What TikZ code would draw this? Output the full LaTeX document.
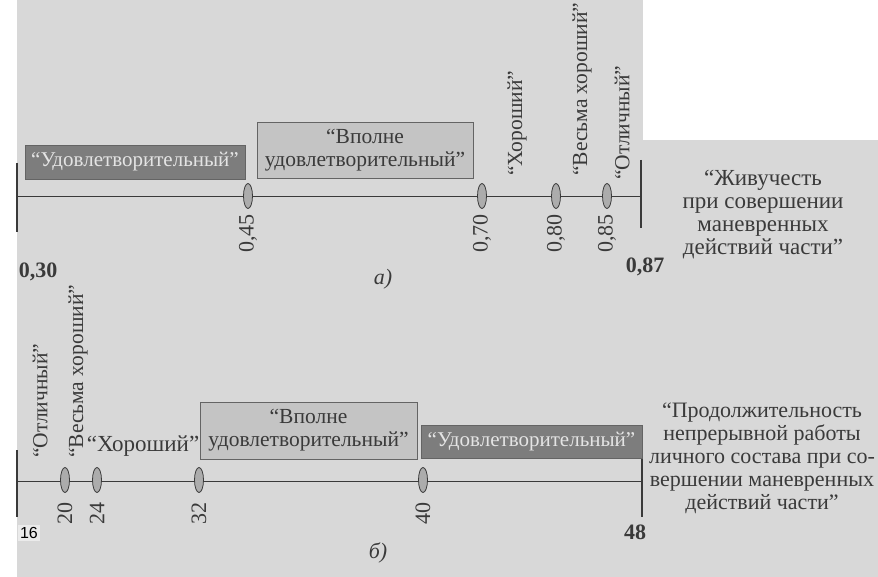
\documentclass[tikz,border=0pt]{standalone}
\usepackage{fontspec}
\setmainfont{Liberation Serif}
\setsansfont{Liberation Sans}
\usetikzlibrary{shapes.geometric}
\definecolor{page}{RGB}{216,216,216}
\definecolor{ink}{RGB}{58,58,58}
\definecolor{darkbox}{RGB}{125,125,125}
\definecolor{lightbox}{RGB}{196,196,196}
\definecolor{boxline}{RGB}{100,100,100}
\definecolor{ovalfill}{RGB}{172,172,172}
\definecolor{lighttext}{RGB}{228,228,228}
\begin{document}
\begin{tikzpicture}[x=1pt,y=-1pt,
  every node/.style={text=ink, font=\fontsize{23}{23}\selectfont},
  darkrect/.style={fill=darkbox, draw=boxline, line width=0.8, text=lighttext, inner sep=0, align=center, font=\fontsize{21}{23}\selectfont},
  lightrect/.style={fill=lightbox, draw=boxline, line width=0.8, inner sep=0, align=center, font=\fontsize{21.5}{23}\selectfont},
  oval/.style={ellipse, draw=ink, fill=ovalfill, minimum width=9, minimum height=25, inner sep=0, line width=0.8},
  axis/.style={draw=ink, line width=1},
  endtick/.style={draw=ink, line width=1.3},
  vlabel/.style={rotate=90, anchor=west, inner sep=0, font=\fontsize{21.5}{23}\selectfont},
  num/.style={rotate=90, anchor=east, inner sep=0, font=\fontsize{22}{23}\selectfont},
  bignum/.style={font=\bfseries\fontsize{22}{23}\selectfont, inner sep=0},
  caption/.style={align=center, inner sep=0},
  sublabel/.style={font=\itshape\fontsize{22}{23}\selectfont, inner sep=0}
]
\useasboundingbox (0,0) rectangle (878,577);
\fill[page] (17,0) rectangle (878,577);
\fill[white] (643,0) rectangle (878,140);

% ---------- scale a ----------
\coordinate (aL) at (17,197);
\coordinate (aR) at (641,197);
\coordinate (aLt) at (17,163);
\coordinate (aLb) at (17,232);
\coordinate (aRt) at (641,160);
\coordinate (aRb) at (641,228);
\draw[axis] (aL) -- (aR);
\draw[endtick] (aLt) -- (aLb);
\draw[endtick] (aRt) -- (aRb);

\node[darkrect, minimum width=220, minimum height=34] (aSat) at (135,162) {“Удовлетворительный”};
\node[lightrect, minimum width=216, minimum height=56] (aFull) at (365,150) {“Вполне\\удовлетворительный”};

\node[oval] (a45) at (248,196) {};
\node[oval] (a70) at (482,196) {};
\node[oval] (a80) at (556,196) {};
\node[oval] (a85) at (607,196) {};

\node[vlabel] (aGood) at (517,176) {“Хороший”};
\node[vlabel] (aVGood) at (582,176) {“Весьма хороший”};
\node[vlabel] (aExc) at (622,180) {“Отличный”};

\node[num] (n45) at (248,214) {0,45};
\node[num] (n70) at (482,214) {0,70};
\node[num] (n80) at (556,214) {0,80};
\node[num] (n85) at (607,214) {0,85};

\node[bignum] (n30) at (38,272) {0,30};
\node[bignum] (n87) at (645,267) {0,87};
\node[sublabel] (capa) at (383,279) {а)};

\node[caption] (capA) at (763,215) {“Живучесть\\при совершении\\маневренных\\действий части”};

% ---------- scale b ----------
\coordinate (bL) at (17,481);
\coordinate (bR) at (642,481);
\coordinate (bLt) at (17,450);
\coordinate (bLb) at (17,517);
\coordinate (bRt) at (642,445);
\coordinate (bRb) at (642,517);
\draw[axis] (bL) -- (bR);
\draw[endtick] (bLt) -- (bLb);
\draw[endtick] (bRt) -- (bRb);

\node[lightrect, minimum width=217, minimum height=57] (bFull) at (308.5,430.5) {“Вполне\\удовлетворительный”};
\node[darkrect, minimum width=221, minimum height=33] (bSat) at (531.5,441.5) {“Удовлетворительный”};

\node[oval] (b20) at (65,480) {};
\node[oval] (b24) at (97,480) {};
\node[oval] (b32) at (199,480) {};
\node[oval] (b40) at (423,480) {};

\node[vlabel] (bExc) at (40,458) {“Отличный”};
\node[vlabel] (bVGood) at (78,458) {“Весьма хороший”};
\node[inner sep=0] (bGood) at (143,446) {“Хороший”};

\node[num] (m20) at (65,502) {20};
\node[num] (m24) at (97,502) {24};
\node[num] (m32) at (199,502) {32};
\node[num] (m40) at (423,502) {40};

\node[bignum] (m48) at (635,532) {48};
\node[sublabel] (capb) at (378,553) {б)};

\node[caption, font=\fontsize{22}{23}\selectfont] (capB) at (762,458) {“Продолжительность\\непрерывной работы\\личного состава при со-\\вершении маневренных\\действий части”};

\node[fill=white!92!black, text=black, font=\sffamily\fontsize{16}{18}\selectfont, inner sep=2pt] (page) at (29,533) {16};
\end{tikzpicture}
\end{document}
